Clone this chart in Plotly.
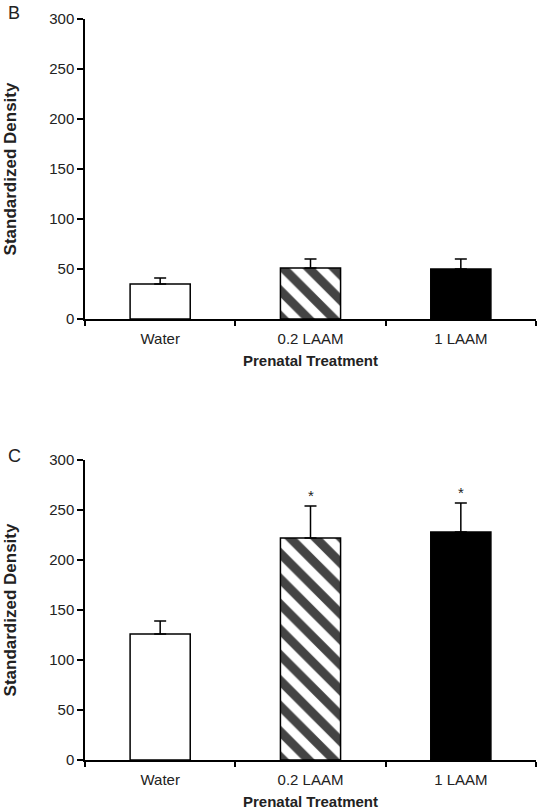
import plotly.graph_objects as go

categories = ["Water", "0.2 LAAM", "1 LAAM"]
b_values = [35, 51, 50]
b_errors = [6, 9, 10]
c_values = [126, 222, 228]
c_errors = [13, 32, 29]
c_signif = ["", "*", "*"]
y_ticks = [0, 50, 100, 150, 200, 250, 300]

W, H = 540, 811
fill_colors = ["white", "white", "black"]
patterns = ["", "\\", ""]

fig = go.Figure()

def add_panel(vals, errs, xa, ya):
    fig.add_trace(go.Bar(
        x=categories, y=vals, xaxis=xa, yaxis=ya, width=0.4,
        marker=dict(color=fill_colors, line=dict(color="black", width=1.5),
                    pattern=dict(shape=patterns, fgcolor="black", bgcolor="white",
                                 fgopacity=1, size=18, solidity=0.5)),
        error_y=dict(type="data", array=errs, arrayminus=[0]*len(errs),
                     symmetric=False, color="black", thickness=1.5, width=6),
        showlegend=False, hoverinfo="skip"))

add_panel(b_values, b_errors, "x", "y")
add_panel(c_values, c_errors, "x2", "y2")

font = dict(family="Liberation Sans, Arial, sans-serif", size=15, color="#222")
ytitle_font = dict(family="Liberation Sans, Arial, sans-serif", size=17, color="#222")
xdom = [85/W, 536/W]
axis_common = dict(showline=True, linecolor="black", linewidth=1.5, ticks="outside",
                   tickcolor="black", tickwidth=1.5, ticklen=5, showgrid=False,
                   zeroline=False, tickfont=font, automargin=False)

for i, (ydom) in enumerate([[492/H, 792/H], [51/H, 351/H]]):
    sx = "" if i == 0 else "2"
    fig.layout["xaxis" + sx] = dict(axis_common, domain=xdom, anchor="y" + sx,
                                    range=[-0.5, 2.5], tickson="boundaries",
                                    ticklabelstandoff=5,
                                    title=dict(text="<b>Prenatal Treatment</b>", font=font, standoff=10))
    fig.layout["yaxis" + sx] = dict(axis_common, domain=ydom, anchor="x" + sx,
                                    range=[0, 300], tickvals=y_ticks, ticklen=6,
                                    title=dict(text="<b>Standardized Density</b>", font=ytitle_font, standoff=28))

annotations = [
    dict(text="B", x=6/W, y=1-13/H, xref="paper", yref="paper", xanchor="left", yanchor="middle",
         showarrow=False, font=dict(family="Liberation Sans, Arial", size=18, color="#222")),
    dict(text="C", x=6/W, y=1-456/H, xref="paper", yref="paper", xanchor="left", yanchor="middle",
         showarrow=False, font=dict(family="Liberation Sans, Arial", size=18, color="#222")),
]
for cat, v, e, s in zip(categories, c_values, c_errors, c_signif):
    if s:
        annotations.append(dict(text=s, x=cat, y=v + e, xref="x2", yref="y2", yshift=11,
                                showarrow=False, font=dict(family="Liberation Sans, Arial", size=15, color="#222")))

fig.update_layout(width=W, height=H, margin=dict(l=0, r=0, t=0, b=0, autoexpand=False),
                  plot_bgcolor="white", paper_bgcolor="white", annotations=annotations)

fig.write_html("out.html", config={"displayModeBar": False},
               post_script="document.body.style.margin='0';document.body.style.overflow='hidden';")
